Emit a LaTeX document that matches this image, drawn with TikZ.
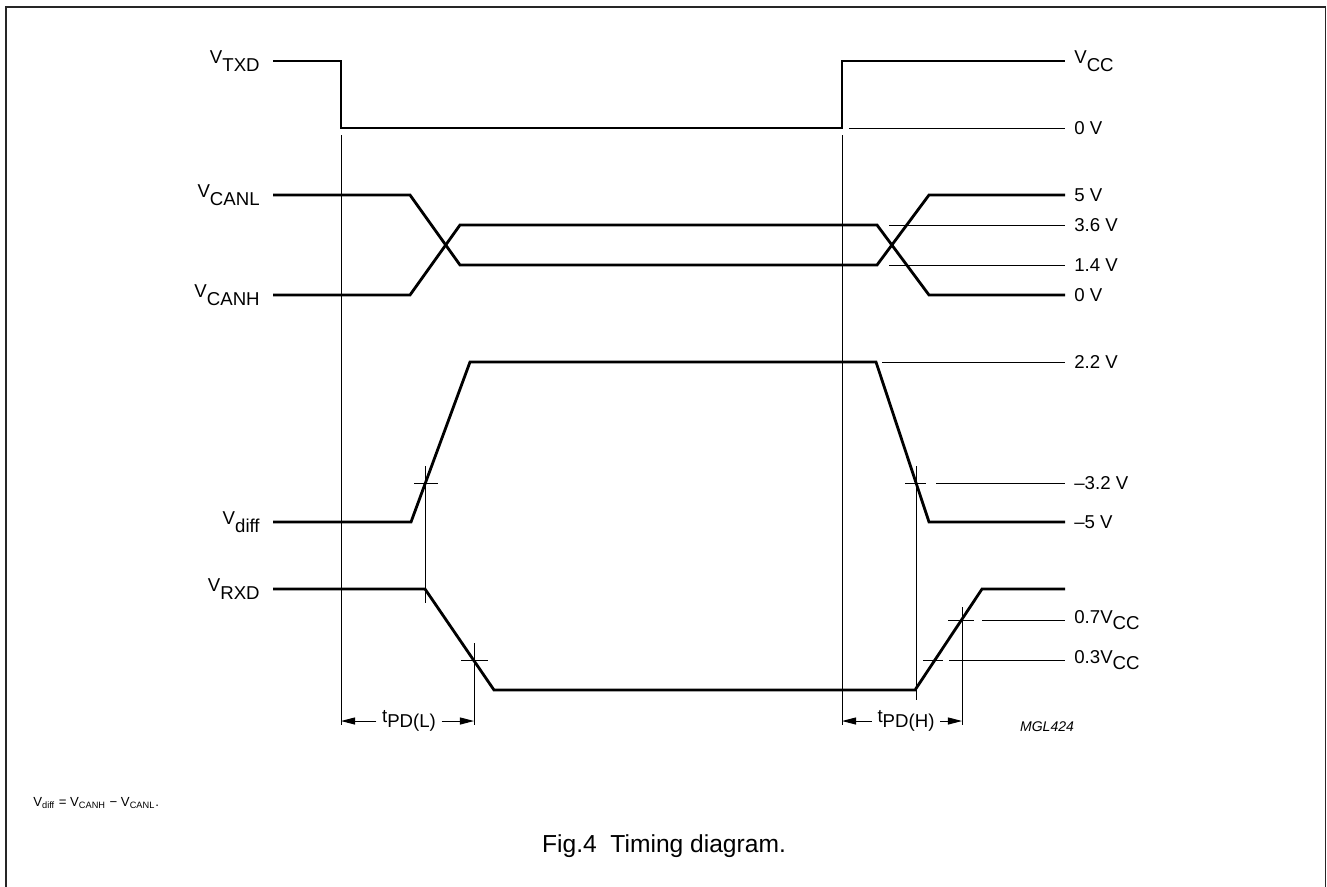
\documentclass[tikz,border=0pt]{standalone}
\usepackage{fontspec}
\setmainfont{Liberation Sans}
\usetikzlibrary{arrows.meta,positioning}
\newcommand{\rsub}[3][4.5pt]{\raisebox{#1}{#2}#3}

\begin{document}
\begin{tikzpicture}[x=0.02cm, y=-0.02cm,
  wave/.style={line width=1.6pt, line join=miter},
  fine/.style={line width=0.55pt},
  lft/.style={anchor=east, font=\fontsize{10.6}{12}\selectfont, inner sep=0pt},
  rgt/.style={anchor=west, font=\fontsize{10.6}{12}\selectfont, inner sep=0pt},
  dimlbl/.style={font=\fontsize{10.6}{12}\selectfont, inner sep=3pt},
  dim/.style={fine, -{Triangle[length=8pt,width=4pt]}},
]
\clip (0,0) rectangle (1327,886);
% ---- frame ----
\draw[line width=1.1pt, black!85] (6,900) -- (6,7) -- (1325.5,7) -- (1325.5,900);
% ---- signal names ----
\node[lft] (nTXD)  at (260,61)  {\rsub{V}{TXD}};
\node[lft] (nCANL) at (260,195) {\rsub{V}{CANL}};
\node[lft] (nCANH) at (260,295) {\rsub{V}{CANH}};
\node[lft] (nDIFF) at (260,522) {\rsub{V}{diff}};
\node[lft] (nRXD)  at (260,589) {\rsub{V}{RXD}};
% ---- levels ----
\node[rgt] (vcc)   at (1074,61)  {\rsub{V}{CC}};
\node[rgt] (zeroT) at (1074,128) {0 V};
\node[rgt] (five)  at (1074,195) {5 V};
\node[rgt] (hi36)  at (1074,225) {3.6 V};
\node[rgt] (lo14)  at (1074,265) {1.4 V};
\node[rgt] (zeroC) at (1074,295) {0 V};
\node[rgt] (d22)   at (1074,362) {2.2 V};
\node[rgt] (d32)   at (1074,483) {–3.2 V};
\node[rgt] (d5)    at (1074,522) {–5 V};
\node[rgt] (r07)   at (1074,620) {\rsub[3pt]{0.7V}{CC}};
\node[rgt] (r03)   at (1074,660) {\rsub[3pt]{0.3V}{CC}};
% ---- waveforms ----
\draw[wave] (273,61) -- (341,61) -- (341,128) -- (842,128) -- (842,61) -- (1065,61);
\draw[wave] (273,195) -- (410,195) -- (460,265) -- (877,265) -- (929,195) -- (1065,195);
\draw[wave] (273,295) -- (410,295) -- (460,225) -- (877,225) -- (929,295) -- (1065,295);
\draw[wave] (273,522) -- (411,522) -- (470,362) -- (876,362) -- (929,522) -- (1065,522);
\draw[wave] (273,589) -- (425,589) -- (494,690) -- (915,690) -- (982,589) -- (1065,589);
% ---- reference levels ----
\draw[fine] (849,128) -- (1065,128);
\draw[fine] (889,225) -- (1065,225);
\draw[fine] (889,265) -- (1065,265);
\draw[fine] (882,362) -- (1065,362);
\draw[fine] (936,483) -- (1065,483);
\draw[fine] (982,620) -- (1065,620);
\draw[fine] (949,660) -- (1065,660);
% ---- markers ----
\draw[fine] (341,135) -- (341,725);
\draw[fine] (842,135) -- (842,725);
\draw[fine] (425,466) -- (425,603);
\draw[fine] (916,466) -- (916,700);
\draw[fine] (474,643) -- (474,725);
\draw[fine] (962,607) -- (962,725);
\draw[fine] (414,483) -- (438,483);
\draw[fine] (905,483) -- (926,483);
\draw[fine] (461,660) -- (488,660);
\draw[fine] (923,660) -- (943,660);
\draw[fine] (948,620) -- (974,620);
% ---- propagation delays ----
\coordinate (aL1) at (341,721);
\coordinate (aL2) at (474,721);
\coordinate (aH1) at (842,721);
\coordinate (aH2) at (962,721);
\node[dimlbl] (tL) at (409,721) {\rsub[3pt]{t}{PD(L)}};
\node[dimlbl] (tH) at (906,721) {\rsub[3pt]{t}{PD(H)}};
\draw[dim] (tL.west) -- (aL1);
\draw[dim] (tL.east) -- (aL2);
\draw[dim] (tH.west) -- (aH1);
\draw[dim] (tH.east) -- (aH2);
\node[font=\fontsize{8}{9}\selectfont\itshape] (code) at (1047,727) {MGL424};
% ---- note and caption ----
\node[anchor=west, font=\fontsize{7.5}{9}\selectfont, inner sep=0pt] (note) at (33,803)
  {V\textsubscript{diff} = V\textsubscript{CANH} − V\textsubscript{CANL}.};
\node[font=\fontsize{14}{16}\selectfont] (cap) at (664,846) {Fig.4\ \ Timing diagram.};
\end{tikzpicture}
\end{document}
